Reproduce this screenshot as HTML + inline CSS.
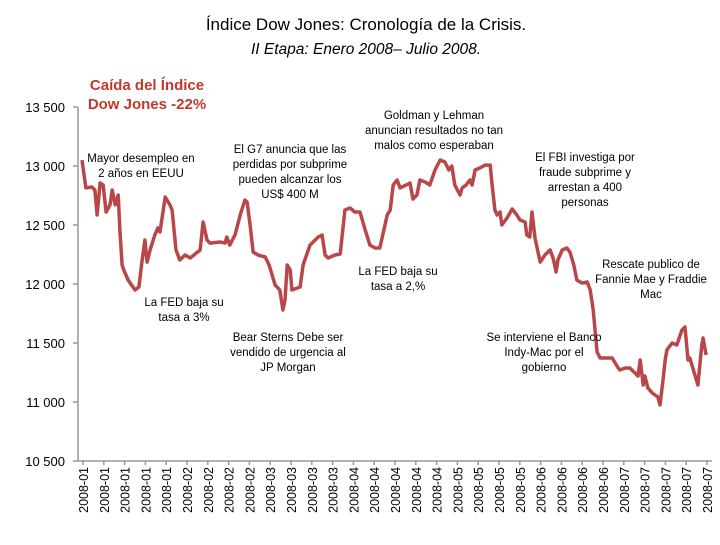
<!DOCTYPE html>
<html><head><meta charset="utf-8"><style>
body{margin:0;background:#fff;}
svg text{font-family:"Liberation Sans",sans-serif;}
</style></head><body>
<svg width="720" height="540" xmlns="http://www.w3.org/2000/svg">
<text x="366" y="30" text-anchor="middle" font-size="17">Índice Dow Jones: Cronología de la Crisis.</text>
<text x="366" y="54" text-anchor="middle" font-size="15.5" font-style="italic">II Etapa: Enero 2008– Julio 2008.</text>
<g id="axes"></g>
<path id="line" fill="none" stroke="#b9474a" stroke-width="3.5" stroke-linejoin="round"/>
<g font-size="11.5" text-anchor="middle">
<text x="147" y="90" font-size="15" font-weight="bold" fill="#c0392b"><tspan x="147">Caída del Índice</tspan><tspan x="147" dy="19">Dow Jones -22%</tspan></text>
<text x="141" y="162"><tspan x="141">Mayor desempleo en</tspan><tspan x="141" dy="15">2 años en EEUU</tspan></text>
<text x="290" y="153"><tspan x="290">El G7 anuncia que las</tspan><tspan x="290" dy="15">perdidas por subprime</tspan><tspan x="290" dy="15">pueden alcanzar los</tspan><tspan x="290" dy="15">US$ 400 M</tspan></text>
<text x="434" y="119"><tspan x="434">Goldman y Lehman</tspan><tspan x="434" dy="15">anuncian resultados no tan</tspan><tspan x="434" dy="15">malos como esperaban</tspan></text>
<text x="585" y="161"><tspan x="585">El FBI investiga por</tspan><tspan x="585" dy="15">fraude subprime y</tspan><tspan x="585" dy="15">arrestan a 400</tspan><tspan x="585" dy="15">personas</tspan></text>
<text x="184" y="306"><tspan x="184">La FED baja su</tspan><tspan x="184" dy="15">tasa a 3%</tspan></text>
<text x="398" y="275"><tspan x="398">La FED baja su</tspan><tspan x="398" dy="15">tasa a 2,%</tspan></text>
<text x="288" y="341"><tspan x="288">Bear Sterns Debe ser</tspan><tspan x="288" dy="15">vendido de urgencia al</tspan><tspan x="288" dy="15">JP Morgan</tspan></text>
<text x="651" y="268"><tspan x="651">Rescate publico de</tspan><tspan x="651" dy="15">Fannie Mae y Fraddie</tspan><tspan x="651" dy="15">Mac</tspan></text>
<text x="544" y="341"><tspan x="544">Se interviene el Banco</tspan><tspan x="544" dy="15">Indy-Mac por el</tspan><tspan x="544" dy="15">gobierno</tspan></text>
</g>
</svg>
<script>
const yTicks=[10500,11000,11500,12000,12500,13000,13500];
const yTickLabels=["10 500","11 000","11 500","12 000","12 500","13 000","13 500"];
const xLabels=["2008-01","2008-01","2008-01","2008-01","2008-01","2008-02","2008-02","2008-02","2008-02","2008-03","2008-03","2008-03","2008-03","2008-04","2008-04","2008-04","2008-04","2008-04","2008-05","2008-05","2008-05","2008-05","2008-06","2008-06","2008-06","2008-06","2008-07","2008-07","2008-07","2008-07","2008-07"];
const days=[0,0.9,2.3,3,3.5,4.2,4.9,5.6,6.5,7,7.7,8.4,8.8,9.3,9.7,10.7,12.3,13.2,13.9,14.6,15.1,15.8,16.9,17.6,18.1,19.3,20.4,20.9,21.8,22.7,23.9,25.1,27.4,28.1,29,29.7,32,33.2,33.6,34.3,35.5,36.7,37.8,38.3,39,39.7,40.8,42.5,43.4,44.8,45.9,46.6,47.1,47.6,48.3,48.7,50.6,51.3,51.7,52.9,54.8,55.7,56.4,57.1,58.7,59.9,61,62.2,63.3,64.5,65.7,66.8,68,69.1,70.3,70.8,71.5,72.2,73.1,73.8,75.2,76.1,76.8,77.7,78.4,79.6,80.7,81.9,83.1,84.2,85.1,85.8,86.5,87.7,88.2,89.1,90,90.5,91.2,92.3,93.5,94.7,95.1,95.8,96.3,97,97.4,98.6,99.8,100.9,101.6,102.8,103.2,103.9,104.4,105.1,106.3,107.4,108.6,109.3,110,110.4,111.4,112.5,113.2,114.1,114.8,116,117.2,117.9,118.6,119.5,120.2,123,124.4,124.8,126,127.1,128.3,129,129.5,130.2,130.6,131.3,132.3,133.6,134.1,134.8,135.3,135.7,136.9,138,139.2,139.9,140.6,141,142.2,142.9,143.8,144.1,144.8];
const values=[13050,12814,12822,12797,12585,12856,12839,12610,12670,12797,12670,12754,12458,12161,12119,12034,11949,11975,12186,12373,12186,12288,12415,12475,12441,12737,12670,12627,12288,12203,12246,12220,12288,12525,12373,12347,12356,12347,12398,12330,12415,12585,12712,12695,12500,12271,12246,12229,12161,11992,11949,11780,11864,12161,12119,11949,11975,12161,12203,12330,12398,12415,12246,12220,12246,12254,12627,12644,12610,12610,12458,12330,12305,12305,12500,12585,12627,12839,12881,12814,12839,12856,12720,12754,12881,12864,12839,12966,13051,13034,12966,13000,12839,12754,12814,12839,12881,12839,12966,12983,13008,13008,12856,12627,12585,12610,12500,12559,12636,12585,12542,12525,12415,12398,12610,12390,12186,12246,12288,12220,12102,12203,12288,12305,12271,12161,12034,12008,12017,11949,11780,11424,11373,11373,11288,11271,11288,11288,11246,11220,11356,11144,11220,11119,11076,11042,10975,11186,11356,11441,11500,11483,11610,11636,11356,11373,11229,11144,11483,11542,11398];
const NS="http://www.w3.org/2000/svg";
const X0=78,X1=712,Y0=461,Y1=107,VMIN=10500,VMAX=13500,DMAX=145;
const yScale=v=>Y0-(v-VMIN)/(VMAX-VMIN)*(Y0-Y1);
const xScale=d=>82+d/DMAX*(707-82);
const xTick=k=>83+k*(707-83)/(xLabels.length-1);
const axes=document.getElementById('axes');
function mk(tag,attrs){const e=document.createElementNS(NS,tag);for(const k in attrs)e.setAttribute(k,attrs[k]);return e;}
const yAxis=mk('line',{x1:X0,y1:Y1,x2:X0,y2:Y0,stroke:'#999','stroke-width':1.5});


axes.appendChild(yAxis);
const xAxis=mk('line',{x1:X0,y1:Y0,x2:X1,y2:Y0,stroke:'#999','stroke-width':1.5});


axes.appendChild(xAxis);
yTicks.forEach((v,i)=>{
 const y=yScale(v);
 const t=mk('line',{x1:X0-5,y1:y,x2:X0,y2:y,stroke:'#999','stroke-width':1.5});
 
 
 axes.appendChild(t);
 const l=mk('text',{x:65,y:y+5,'text-anchor':'end','font-size':13});
 l.textContent=yTickLabels[i];
 
 
 axes.appendChild(l);
});
xLabels.forEach((s,k)=>{
 const x=xTick(k);
 const t=mk('line',{x1:x,y1:Y0,x2:x,y2:Y0+4,stroke:'#999','stroke-width':1.5});
 
 
 axes.appendChild(t);
 const l=mk('text',{x:0,y:0,'text-anchor':'end','font-size':12.5,transform:`translate(${x+5},${Y0+6}) rotate(-90)`});
 l.textContent=s;
 
 
 axes.appendChild(l);
});
const n=Math.min(days.length,values.length);
let d='';
for(let i=0;i<n;i++){d+=(i?'L':'M')+xScale(days[i]).toFixed(1)+','+yScale(values[i]).toFixed(1);}
document.getElementById('line').setAttribute('d',d);
</script>
</body></html>
